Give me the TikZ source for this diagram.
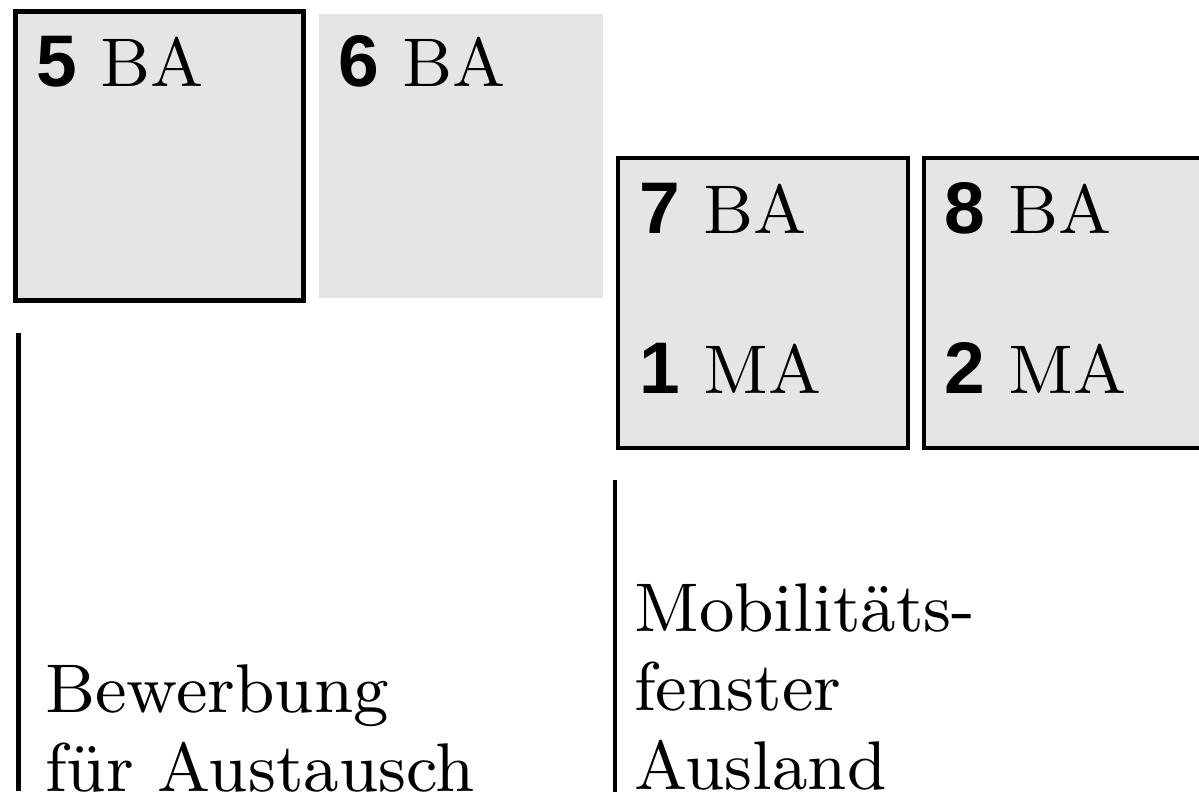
\documentclass[tikz,border=0pt]{standalone}
\usepackage{fontspec}
\usepackage{tikz}
\usetikzlibrary{positioning}
\setmainfont{lmroman9-regular.otf}
\newfontfamily\numfont{Liberation Sans}
\newcommand{\semnum}[1]{{\numfont\bfseries\fontsize{52}{56}\selectfont #1}}

\begin{document}
\begin{tikzpicture}[x=0.025cm,y=-0.025cm]
        \useasboundingbox (0,0) rectangle (1199,796);
        \begin{scope}[every node/.style={fill=black!10,inner sep=0pt,line width=3.2pt}]
          \node[draw,minimum width=7.2cm,minimum height=7.225cm] (s5) at (159.5,156) {};
          \node[minimum width=7.11cm,minimum height=7.09cm] (s6) at (461.25,155.85) {};
          \node[draw,minimum width=7.25cm,minimum height=7.25cm] (s7) at (763,303) {};
          \node[draw,minimum width=7.25cm,minimum height=7.25cm] (s8) at (1069,303) {};
        \end{scope}
        \begin{scope}[every node/.style={anchor=base west,inner sep=0pt,font=\fontsize{49}{56}\selectfont}]
          \node (l5) at (36,86) {\semnum{5} BA};
          \node (l6) at (338,86) {\semnum{6} BA};
          \node (l7) at (639,233) {\semnum{7} BA};
          \node (l1) at (639,393) {\semnum{1} MA};
          \node (l8) at (944,233) {\semnum{8} BA};
          \node (l2) at (944,393) {\semnum{2} MA};
          \node[align=left] (bew) at (45,791) {Bewerbung\\für Austausch};
          \node[align=left] (mob) at (634,789) {Mobilitäts-\\fenster\\Ausland};
        \end{scope}
        \coordinate (bewtop) at (18.5,333);
        \coordinate (bewbot) at (18.5,791);
        \coordinate (mobtop) at (615,480);
        \coordinate (mobbot) at (615,792);
        \begin{scope}[every edge/.style={draw=black,line width=3.2pt}]
          \path (bewtop) edge (bewbot);
          \path (mobtop) edge (mobbot);
        \end{scope}
      \end{tikzpicture}
\end{document}
